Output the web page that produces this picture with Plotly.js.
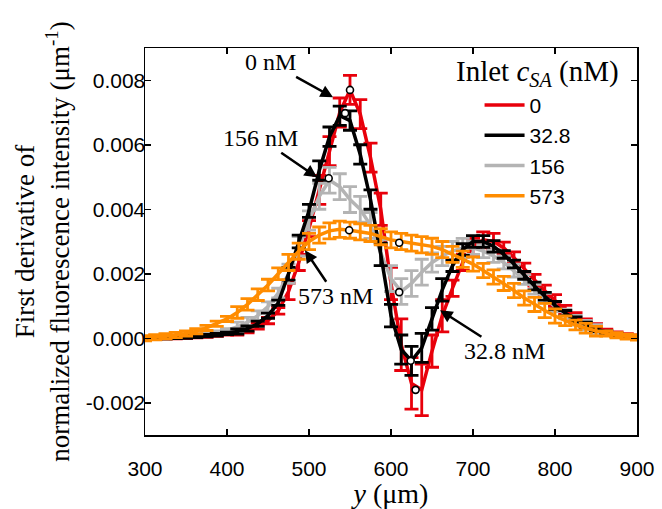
<!DOCTYPE html>
<html>
<head>
<meta charset="utf-8">
<script src="https://cdn.plot.ly/plotly-3.0.1.min.js"></script>
<style>html,body{margin:0;padding:0;background:#fff;}#chart{width:662px;height:509px;}</style>
</head>
<body>
<div id="chart"></div>
<script>
// Position across channel, y (µm)
const yPos = [300, 312.5, 325, 337.5, 350, 362.5, 375, 387.5, 400, 412.5, 425, 437.5, 450, 462.5, 475, 487.5, 500, 512.5, 525, 537.5, 550, 562.5, 575, 587.5, 600, 612.5, 625, 637.5, 650, 662.5, 675, 687.5, 700, 712.5, 725, 737.5, 750, 762.5, 775, 787.5, 800, 812.5, 825, 837.5, 850, 862.5, 875, 887.5, 900];

const seriesNames = ["0", "32.8", "156", "573"];

// First derivative values (µm^-1)
const d0 = [0, 1e-5, 2e-5, 3e-5, 4e-5, 6e-5, 8e-5, 1.1e-4, 1.5e-4, 2.0e-4, 2.7e-4, 3.8e-4, 5.5e-4, 8.5e-4, 1.45e-3, 2.35e-3, 3.4e-3, 4.6e-3, 5.8e-3, 7.0e-3, 7.7e-3, 6.95e-3, 5.6e-3, 4.0e-3, 1.7e-3, -2.0e-4, -1.4e-3, -1.6e-3, -4.0e-4, 7.0e-4, 1.55e-3, 2.35e-3, 2.85e-3, 3.05e-3, 3.0e-3, 2.8e-3, 2.5e-3, 2.15e-3, 1.8e-3, 1.47e-3, 1.17e-3, 9.0e-4, 6.7e-4, 4.8e-4, 3.3e-4, 2.2e-4, 1.4e-4, 8e-5, 4e-5];
const d32 = [0, 1e-5, 2e-5, 3e-5, 4e-5, 6e-5, 8e-5, 1.1e-4, 1.5e-4, 2.1e-4, 3.0e-4, 4.5e-4, 7.0e-4, 1.1e-3, 2.0e-3, 3.0e-3, 3.95e-3, 5.2e-3, 6.25e-3, 6.9e-3, 6.75e-3, 5.7e-3, 4.3e-3, 2.6e-3, 7.0e-4, -3.5e-4, -7.0e-4, -3.0e-4, 6.0e-4, 1.5e-3, 2.25e-3, 2.75e-3, 3.0e-3, 3.0e-3, 2.85e-3, 2.6e-3, 2.3e-3, 1.95e-3, 1.62e-3, 1.3e-3, 1.02e-3, 7.8e-4, 5.8e-4, 4.2e-4, 2.9e-4, 1.9e-4, 1.1e-4, 6e-5, 2e-5];
const d156 = [0, 1e-5, 2e-5, 4e-5, 6e-5, 9e-5, 1.3e-4, 1.8e-4, 2.5e-4, 3.5e-4, 5.0e-4, 7.0e-4, 9.8e-4, 1.4e-3, 2.0e-3, 2.85e-3, 3.65e-3, 4.4e-3, 4.9e-3, 4.7e-3, 4.3e-3, 4.0e-3, 3.5e-3, 2.65e-3, 1.85e-3, 1.45e-3, 1.7e-3, 2.05e-3, 2.35e-3, 2.55e-3, 2.7e-3, 2.8e-3, 2.8e-3, 2.7e-3, 2.55e-3, 2.35e-3, 2.1e-3, 1.82e-3, 1.52e-3, 1.24e-3, 9.8e-4, 7.5e-4, 5.6e-4, 4.0e-4, 2.7e-4, 1.7e-4, 1.0e-4, 5e-5, 2e-5];
const d573 = [0, 3e-5, 6e-5, 1.0e-4, 1.5e-4, 2.2e-4, 3.2e-4, 4.5e-4, 6.0e-4, 8.0e-4, 1.05e-3, 1.35e-3, 1.65e-3, 2.0e-3, 2.35e-3, 2.7e-3, 3.0e-3, 3.2e-3, 3.33e-3, 3.38e-3, 3.35e-3, 3.3e-3, 3.25e-3, 3.15e-3, 3.05e-3, 3.0e-3, 2.95e-3, 2.9e-3, 2.85e-3, 2.75e-3, 2.6e-3, 2.45e-3, 2.3e-3, 2.1e-3, 1.9e-3, 1.7e-3, 1.48e-3, 1.25e-3, 1.05e-3, 8.6e-4, 6.9e-4, 5.4e-4, 4.1e-4, 3.1e-4, 2.2e-4, 1.5e-4, 9e-5, 5e-5, 2e-5];

// Error bars (µm^-1)
const e0 = [5e-5, 5e-5, 5e-5, 5e-5, 5e-5, 5e-5, 5e-5, 5e-5, 5e-5, 1e-4, 1e-4, 1e-4, 1e-4, 1e-4, 2.5e-4, 2.5e-4, 2.5e-4, 4.5e-4, 4.5e-4, 4.5e-4, 4.5e-4, 4.5e-4, 4.5e-4, 5e-4, 5e-4, 8e-4, 8e-4, 8e-4, 5e-4, 5e-4, 2.5e-4, 2.5e-4, 2.5e-4, 2.5e-4, 2.5e-4, 1.8e-4, 1.8e-4, 1.8e-4, 1.8e-4, 1.8e-4, 1.8e-4, 1.2e-4, 1.2e-4, 1.2e-4, 1.2e-4, 6e-5, 6e-5, 6e-5, 6e-5];
const e32 = [4e-5, 4e-5, 4e-5, 4e-5, 4e-5, 4e-5, 4e-5, 4e-5, 4e-5, 8e-5, 8e-5, 8e-5, 8e-5, 8e-5, 2e-4, 2e-4, 2e-4, 3e-4, 3e-4, 3e-4, 3e-4, 3e-4, 3e-4, 3.5e-4, 3.5e-4, 4.5e-4, 4.5e-4, 4.5e-4, 3.5e-4, 3.5e-4, 1.8e-4, 1.8e-4, 1.8e-4, 1.8e-4, 1.8e-4, 1.2e-4, 1.2e-4, 1.2e-4, 1.2e-4, 1.2e-4, 1.2e-4, 8e-5, 8e-5, 8e-5, 8e-5, 4e-5, 4e-5, 4e-5, 4e-5];
const e156 = [5e-5, 5e-5, 5e-5, 5e-5, 5e-5, 5e-5, 5e-5, 5e-5, 5e-5, 1.5e-4, 1.5e-4, 1.5e-4, 1.5e-4, 1.5e-4, 3e-4, 3e-4, 3e-4, 4e-4, 4e-4, 4e-4, 4e-4, 4e-4, 4e-4, 4e-4, 4e-4, 4e-4, 4e-4, 4e-4, 3e-4, 3e-4, 3e-4, 3e-4, 2e-4, 2e-4, 2e-4, 2e-4, 2e-4, 1.5e-4, 1.5e-4, 1.5e-4, 1.5e-4, 1.5e-4, 1.5e-4, 1.5e-4, 1.5e-4, 6e-5, 6e-5, 6e-5, 6e-5];
const e573 = [8e-5, 8e-5, 8e-5, 8e-5, 8e-5, 8e-5, 8e-5, 8e-5, 8e-5, 1.8e-4, 1.8e-4, 1.8e-4, 1.8e-4, 1.8e-4, 2.5e-4, 2.5e-4, 2.5e-4, 2.5e-4, 2.5e-4, 2.5e-4, 2.5e-4, 2.5e-4, 2.5e-4, 2.5e-4, 2.5e-4, 2.5e-4, 2.5e-4, 2.5e-4, 2.5e-4, 2.5e-4, 2.5e-4, 2.5e-4, 2.2e-4, 2.2e-4, 2.2e-4, 2.2e-4, 2.2e-4, 2.2e-4, 2.2e-4, 2.2e-4, 2.2e-4, 1.5e-4, 1.5e-4, 1.5e-4, 1.5e-4, 8e-5, 8e-5, 8e-5, 8e-5];

// Marked points (open circles)
const markX = [550, 544, 524, 549, 610, 610, 624, 630];
const markY = [0.0077, 0.00698, 0.00496, 0.00335, 0.00296, 0.00143, -0.0007, -0.0016];

const xTicks = [300, 400, 500, 600, 700, 800, 900];
const yTicks = [-0.002, 0, 0.002, 0.004, 0.006, 0.008];
const yTickLabels = ["-0.002", "0.000", "0.002", "0.004", "0.006", "0.008"];

const colors = {"0": "#e8000b", "32.8": "#000000", "156": "#b4b4b4", "573": "#ff8c00"};

function series(name, vals, errs, rank) {
  return {
    type: "scatter", mode: "lines", name: name, x: yPos, y: vals,
    line: {color: colors[name], width: 3.5},
    error_y: {type: "data", array: errs, visible: true, color: colors[name], thickness: 2.8, width: 7},
    legendgroup: "g" + name, legendrank: rank, hoverinfo: "skip"
  };
}

const traces = [
  series("0", d0, e0, 1),
  series("156", d156, e156, 3),
  series("32.8", d32, e32, 2),
  series("573", d573, e573, 4),
  {type: "scatter", mode: "markers", x: markX, y: markY, showlegend: false, hoverinfo: "skip",
   marker: {symbol: "circle", size: 7, color: "#ffffff", line: {color: "#000000", width: 1.6}}}
];

const serif = "Liberation Serif, Times New Roman, serif";
const sans = "Liberation Sans, Arial, sans-serif";

function label(text, x, y, ax, ay) {
  return {x: x, y: y, xref: "x", yref: "y", text: text, showarrow: true, ax: ax, ay: ay,
    arrowhead: 2, arrowsize: 1, arrowwidth: 2.5, arrowcolor: "#000", font: {family: serif, size: 24, color: "#000"}};
}

const layout = {
  width: 662, height: 509,
  margin: {l: 145, r: 25, t: 48, b: 74},
  paper_bgcolor: "#fff", plot_bgcolor: "#fff",
  showlegend: true,
  legend: {x: 0.68, y: 0.905, xanchor: "left", yanchor: "top", bgcolor: "rgba(0,0,0,0)",
    font: {family: sans, size: 21, color: "#000"}, tracegroupgap: 0, itemwidth: 40, traceorder: "grouped"},
  xaxis: {range: [300, 900], tickvals: xTicks, ticks: "inside", ticklen: 6, tickwidth: 1.5, tickcolor: "#000",
    showline: true, linecolor: "#000", linewidth: 1.5, mirror: "allticks", showgrid: false, zeroline: false,
    ticklabelstandoff: 14,
    tickfont: {family: sans, size: 21, color: "#000"},
    title: {text: "<i>y</i> (μm)", font: {family: serif, size: 28, color: "#000"}, standoff: 4}},
  yaxis: {range: [-0.003, 0.009], tickvals: yTicks, ticktext: yTickLabels, ticks: "inside", ticklen: 6, tickwidth: 1.5, tickcolor: "#000",
    showline: true, linecolor: "#000", linewidth: 1.5, mirror: "allticks", showgrid: false, zeroline: false,
    ticklabelstandoff: -6,
    tickfont: {family: sans, size: 21, color: "#000"},
    title: {text: "First derivative of<br>normalized fluorescence intensity (μm<sup>-1</sup>)", font: {family: serif, size: 27, color: "#000"}, standoff: 8}},
  annotations: [
    {x: 0.797, y: 0.935, xref: "paper", yref: "paper", xanchor: "center", yanchor: "middle", showarrow: false,
     text: "Inlet <i>c</i><sub><i>SA</i></sub> (nM)", font: {family: serif, size: 29, color: "#000"}},
    label("0 nM", 529.3, 0.00747, -63, -35),
    label("156 nM", 509.8, 0.00499, -57, -39),
    label("573 nM", 495.1, 0.00273, 31, 46),
    label("32.8 nM", 659.8, 0.00087, 64, 41)
  ]
};

Plotly.newPlot("chart", traces, layout, {displayModeBar: false, staticPlot: true});
</script>
</body>
</html>
